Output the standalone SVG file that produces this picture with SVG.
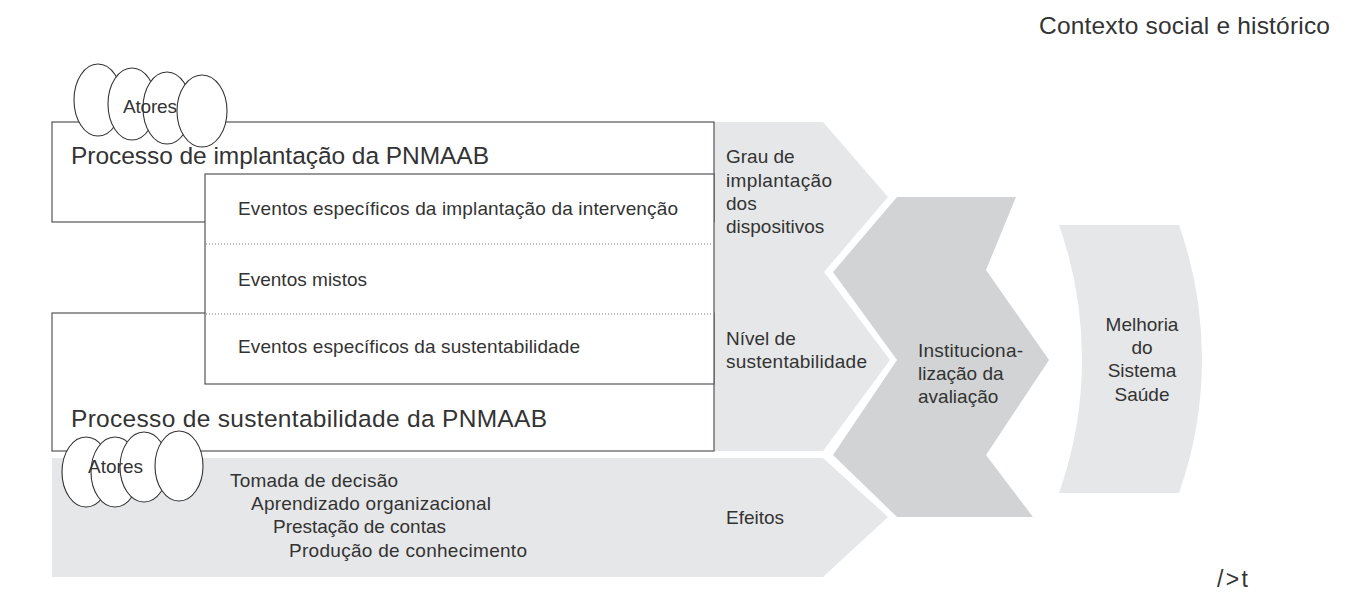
<svg xmlns="http://www.w3.org/2000/svg" width="1347" height="594" viewBox="0 0 1347 594">
<style>
text{font-family:"Liberation Sans",Arial,sans-serif;fill:#333;}
.b{font-size:19px;}
.h{font-size:24.5px;}
.box{fill:#fff;stroke:#555;stroke-width:1.2;}
.dot{stroke:#777;stroke-width:1;stroke-dasharray:1 2;fill:none;}
.ell{fill:#fff;stroke:#333;stroke-width:1.1;}
.lg{fill:#e6e7e8;}
.dg{fill:#d1d3d4;}
.c{text-anchor:middle;}
</style>
<rect width="1347" height="594" fill="#fff"/>
<g id="context"><text class="h" x="1039" y="34" textLength="291">Contexto social e histórico</text></g>
<g id="results-arrow">
<polygon class="lg" points="714,122 823,122 888,197 824,272 890,360 823,451 714,451"/>
<text class="b" x="726" y="163">Grau de</text>
<text class="b" x="726" y="187" textLength="106">implantação</text>
<text class="b" x="726" y="210">dos</text>
<text class="b" x="726" y="233">dispositivos</text>
<text class="b" x="726" y="345">Nível de</text>
<text class="b" x="726" y="368" textLength="141">sustentabilidade</text>
</g>
<g id="effects-arrow">
<polygon class="lg" points="52,458 823,458 888,517 823,577 52,577"/>
<text class="b" x="726" y="524" textLength="58">Efeitos</text>
<text class="b" x="230" y="487" textLength="168">Tomada de decisão</text>
<text class="b" x="251" y="510" textLength="240">Aprendizado organizacional</text>
<text class="b" x="273" y="533" textLength="173">Prestação de contas</text>
<text class="b" x="289" y="557" textLength="238">Produção de conhecimento</text>
</g>
<g id="institucionalizacao">
<polygon class="dg" points="897,197 1016,197 986,270 1049,360 986,455 1033,517 897,517 833,455 897,360 833,272"/>
<text class="b" x="918" y="357" textLength="105">Instituciona-</text>
<text class="b" x="918" y="380">lização da</text>
<text class="b" x="918" y="403">avaliação</text>
</g>
<g id="melhoria">
<path class="lg" d="M1059,225 L1179,225 A402,402 0 0 1 1179,493 L1059,493 A402,402 0 0 0 1059,225 Z"/>
<text class="b c" x="1142" y="331">Melhoria</text>
<text class="b c" x="1142" y="354">do</text>
<text class="b c" x="1142" y="377">Sistema</text>
<text class="b c" x="1142" y="401">Saúde</text>
</g>
<g id="processo-implantacao">
<rect class="box" x="52" y="122" width="662" height="100"/>
<text class="h" x="71" y="164" textLength="418">Processo de implantação da PNMAAB</text>
</g>
<g id="processo-sustentabilidade">
<rect class="box" x="52" y="313" width="662" height="138"/>
<text class="h" x="71" y="427" textLength="476">Processo de sustentabilidade da PNMAAB</text>
</g>
<g id="eventos">
<rect class="box" x="205" y="174" width="509" height="210"/>
<line class="dot" x1="206" y1="244" x2="713" y2="244"/>
<line class="dot" x1="206" y1="314" x2="713" y2="314"/>
<text class="b" x="238" y="215" textLength="440">Eventos específicos da implantação da intervenção</text>
<text class="b" x="238" y="286" textLength="129">Eventos mistos</text>
<text class="b" x="238" y="353" textLength="342">Eventos específicos da sustentabilidade</text>
</g>
<g id="atores-top">
<ellipse class="ell" cx="98" cy="100" rx="24" ry="36"/>
<ellipse class="ell" cx="132" cy="104" rx="24" ry="36"/>
<ellipse class="ell" cx="167" cy="108" rx="24" ry="36"/>
<ellipse class="ell" cx="202" cy="111" rx="25" ry="36"/>
<text class="b" x="123" y="113" textLength="54">Atores</text>
</g>
<g id="atores-bottom">
<ellipse class="ell" cx="86" cy="472" rx="24" ry="35"/>
<ellipse class="ell" cx="115" cy="472" rx="24" ry="35"/>
<ellipse class="ell" cx="144" cy="467" rx="24" ry="35"/>
<ellipse class="ell" cx="179" cy="466" rx="24" ry="35"/>
<text class="b" x="88" y="473" textLength="55">Atores</text>
</g>
<g id="connectors"></g>
<g id="note"><text x="1217" y="587" font-size="23" textLength="31">/&gt;t</text></g>
</svg>
